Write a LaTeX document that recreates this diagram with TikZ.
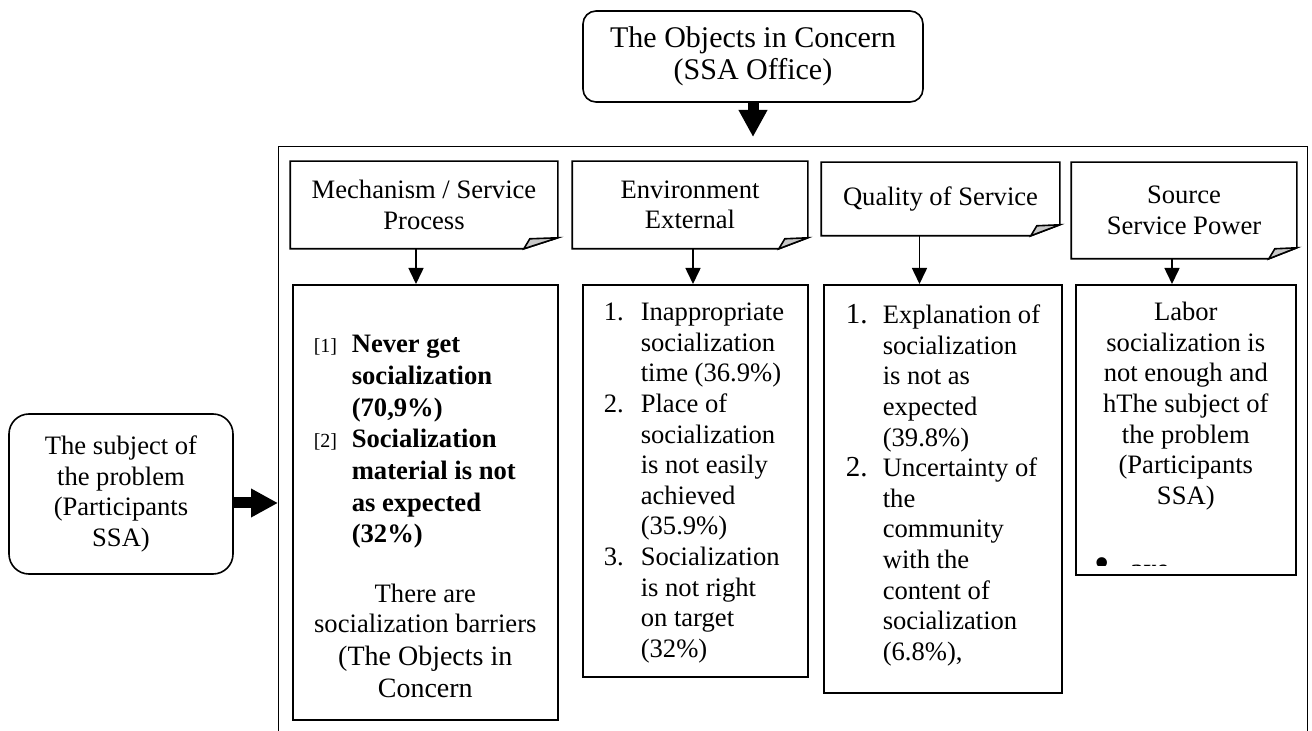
\documentclass[tikz,border=0pt]{standalone}
\usepackage{fontspec}
\setmainfont{Liberation Serif}
\usepackage{tikz}
\usetikzlibrary{arrows.meta,calc}
\definecolor{foldgray}{RGB}{200,200,200}
\newcommand{\lbl}[1]{{\fontsize{10}{12}\selectfont #1}}
\newcommand{\numl}[1]{{\fontsize{14.5}{15.3}\selectfont #1}}
% outline of a header sheet with its folded corner
\newcommand{\docfold}[2]{%
  \draw (#1.north west) -- (#1.north east) -- ([yshift=5.5pt]#1.south east)
    -- ([xshift=-#2]#1.south east) -- (#1.south west) -- cycle;
  \filldraw[fill=foldgray] ([xshift=-#2]#1.south east)
    -- ([xshift=-#2+3pt,yshift=5pt]#1.south east)
    -- ([yshift=5.5pt]#1.south east) -- cycle;}

\begin{document}
\begin{tikzpicture}[x=0.5pt, y=-0.5pt, >=Stealth, line width=0.8pt,
  every node/.style={font=\fontsize{13.3}{15.3}\selectfont},
  roundbox/.style={draw, align=center, inner sep=0pt},
  hdr/.style={inner sep=0pt, align=center},
  cbox/.style={draw, inner sep=0pt, anchor=north west},
  bigarrow/.style={line width=5.5pt, -{Triangle[length=13.5pt,width=13.5pt]}},
  smallarrow/.style={-{Triangle[length=8pt,width=7.5pt]}}]
  \clip (0,0) rectangle (1312,731);

  % Objects in concern (top)
  \node[roundbox, rounded corners=6.5pt, minimum width=170pt, minimum height=45.5pt,
    font=\fontsize{15}{16}\selectfont] (objects) at (753,56.5)
    {The Objects in Concern\\(SSA Office)};

  % Subject of the problem (left)
  \node[roundbox, rounded corners=10pt, minimum width=112pt, minimum height=80pt]
    (subject) at (121,494) {The subject of\\the problem\\(Participants\\SSA)};

  % Outer frame, runs past the lower edge
  \node[draw, line width=0.7pt, inner sep=0pt, anchor=north west,
    minimum width=514.5pt, minimum height=325pt] (frame) at (278,146) {};

  % Big arrows into the frame
  \draw[bigarrow, shorten >=4.5pt] (objects.south) -- (objects.south |- frame.north);
  \draw[bigarrow] ([yshift=-4.5pt]subject.east) -- ([yshift=-4.5pt]subject.east -| frame.west);

  % Header sheets
  \node[hdr, minimum width=133pt, minimum height=43pt] (hdrA) at (424,205)
    {Mechanism / Service\\Process};
  \docfold{hdrA}{17pt}
  \node[hdr, minimum width=117pt, minimum height=43pt] (hdrB) at (690,205)
    {Environment\\External};
  \docfold{hdrB}{14.5pt}
  \node[hdr, minimum width=118.5pt, minimum height=36pt] (hdrC) at (940.5,199)
    {Quality of Service};
  \docfold{hdrC}{14.5pt}
  \node[hdr, minimum width=112pt, minimum height=47.5pt] (hdrD) at (1184,210.5)
    {Source\\Service Power};
  \docfold{hdrD}{14pt}

  % Mechanism / service process
  \node[cbox] (boxA) at (292,284) {\parbox[c][217.5pt][t]{132.5pt}{%
    \rule{0pt}{34pt}\hspace*{10.5pt}{\renewcommand{\arraystretch}{1.035}%
    \begin{tabular}[t]{@{}p{19pt}@{}l@{}}
      \lbl{[1]} & \textbf{Never get}\\
                & \textbf{socialization}\\
                & \textbf{(70,9\%)}\\
      \lbl{[2]} & \textbf{Socialization}\\
                & \textbf{material is not}\\
                & \textbf{as expected}\\
                & \textbf{(32\%)}
    \end{tabular}}\par
    \vspace{14.7pt}
    \centering There are\\socialization barriers\par
    {\fontsize{14}{16.3}\selectfont (The Objects in\\Concern\par}}};

  % Environment external
  \node[cbox] (boxB) at (582,284) {\parbox[c][196pt][t]{112.5pt}{%
    \rule{0pt}{18pt}\hspace*{10.5pt}%
    \begin{tabular}[t]{@{}p{18.5pt}@{}l@{}}
      1. & Inappropriate\\
         & socialization\\
         & time (36.9\%)\\
      2. & Place of\\
         & socialization\\
         & is not easily\\
         & achieved\\
         & (35.9\%)\\
      3. & Socialization\\
         & is not right\\
         & on target\\
         & (32\%)
    \end{tabular}}};

  % Quality of service
  \node[cbox] (boxC) at (823,284) {\parbox[c][204pt][t]{119pt}{%
    \rule{0pt}{19.5pt}\hspace*{11pt}%
    \begin{tabular}[t]{@{}p{18.5pt}@{}l@{}}
      \numl{1.} & Explanation of\\
                & socialization\\
                & is not as\\
                & expected\\
                & (39.8\%)\\
      \numl{2.} & Uncertainty of\\
                & the\\
                & community\\
                & with the\\
                & content of\\
                & socialization\\
                & (6.8\%),
    \end{tabular}}};

  % Source service power
  \node[cbox] (boxD) at (1075,284) {\parbox[c][145pt][t]{110pt}{\centering
    \rule{0pt}{18pt}Labor\\socialization is\\not enough and\\hThe subject of\\
    the problem\\(Participants\\SSA)\par}};
  \begin{scope}
    \clip (1076,285) rectangle (1294,566);
    \node[anchor=base west, inner sep=0pt] (axe) at (1094,578)
      {{\fontsize{22}{22}\selectfont\textbullet}\hspace{10pt}\textbf{axe}};
  \end{scope}

  % Small arrows header -> box
  \draw[smallarrow] ([xshift=-4pt]hdrA.south) -- ([xshift=-4pt]hdrA.south |- boxA.north);
  \draw[smallarrow] ([xshift=1.5pt]hdrB.south) -- ([xshift=1.5pt]hdrB.south |- boxB.north);
  \draw[smallarrow] ([xshift=-10.5pt]hdrC.south) -- ([xshift=-10.5pt]hdrC.south |- boxC.north);
  \draw[smallarrow] ([xshift=-6pt]hdrD.south) -- ([xshift=-6pt]hdrD.south |- boxD.north);
\end{tikzpicture}
\end{document}
